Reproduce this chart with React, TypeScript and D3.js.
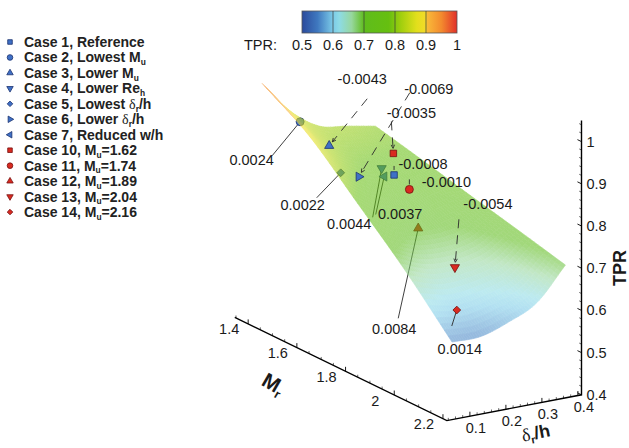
import React from "react";
import * as d3 from "d3";

const WIDTH = 629;
const HEIGHT = 448;
const SANS = "'Liberation Sans', Arial, Helvetica, sans-serif";
const SERIF = "'Liberation Serif', 'Times New Roman', serif";
const INK = "#1a1a1a";

// ---- colour map (TPR) ----
const CMAP_VALUES = [0.5, 0.55, 0.6, 0.62, 0.66, 0.7, 0.78, 0.82, 0.87, 0.9, 0.905, 0.95, 1.0];
const CMAP_COLORS = [
  "#2b4a9c", "#3f78bf", "#7ccbe8", "#8ddbe6", "#97d79e", "#5fbc1c", "#66bf10",
  "#a2cf0e", "#e2df1c", "#f4da2a", "#f9b838", "#f38a2e", "#e1302a",
];
const COLORBAR_TICKS = [0.5, 0.6, 0.7, 0.8, 0.9, 1];

// ---- axes ----
const MR_TICKS = [1.4, 1.6, 1.8, 2, 2.2];
const DR_TICKS = [0.1, 0.2, 0.3, 0.4];
const TPR_TICKS = [0.4, 0.5, 0.6, 0.7, 0.8, 0.9, 1];
const MR_EXTENT = [1.345, 2.216];
const DR_EXTENT = [0.036, 0.41];
const TPR_EXTENT = [0.4, 1.05];

// ---- fitted response surface TPR(Mr, δr/h) ----
const MR_NODES = [1.37, 1.565, 1.76, 1.955, 2.15];
const DR_NODES = [0.095, 0.174, 0.253, 0.331, 0.41];
const TPR_GRID = [
  [0.952, 0.873, 0.825, 0.812, 0.799],
  [0.881, 0.815, 0.778, 0.769, 0.772],
  [0.779, 0.734, 0.715, 0.719, 0.744],
  [0.675, 0.651, 0.651, 0.667, 0.717],
  [0.558, 0.558, 0.58, 0.613, 0.689],
];

// ---- cases ----
const CASE_LABELS = [
  "Case 1, Reference",
  "Case 2, Lowest M_{u}",
  "Case 3, Lower M_{u}",
  "Case 4, Lower Re_{h}",
  "Case 5, Lowest δ_{r}/h",
  "Case 6, Lower δ_{r}/h",
  "Case 7, Reduced w/h",
  "Case 10, M_{u}=1.62",
  "Case 11, M_{u}=1.74",
  "Case 12, M_{u}=1.89",
  "Case 13, M_{u}=2.04",
  "Case 14, M_{u}=2.16",
];
const CASE_SHAPES = ["square", "circle", "up", "down", "diamond", "right", "left", "square", "circle", "up", "down", "diamond"];
const CASE_SERIES = ["ref", "ref", "ref", "ref", "ref", "ref", "ref", "mach", "mach", "mach", "mach", "mach"];
const CASE_MR = [1.6, 1.501, 1.514, 1.558, 1.65, 1.631, 1.598, 1.507, 1.654, 1.785, 1.946, 2.069];
const CASE_DR = [0.306, 0.112, 0.184, 0.3, 0.124, 0.187, 0.28, 0.367, 0.312, 0.248, 0.241, 0.163];
const CASE_TPR = [0.765, 0.895, 0.83, 0.77, 0.814, 0.789, 0.765, 0.78, 0.745, 0.7, 0.654, 0.6];
const CASE_RESIDUAL = [-0.0008, 0.0024, -0.0043, 0.0044, 0.0022, -0.0069, 0.0037, -0.0035, -0.001, 0.0084, -0.0054, 0.0014];

// annotation layout: leader start and label centre, relative to the marker (px)
const LEADER_OFFSETS = [
  [0, -9], [-28, 34], [38, -47], [-9, 49], [-24, 25], [51, -84],
  [-8.5, 38], [-2, -32], [0, -10], [-20, 90], [4, -48], [-5, 16],
];
const LABEL_OFFSETS = [
  [29, -6], [-48.5, 43], [33, -62], [-32.5, 61], [-38, 37], [70, -83],
  [16, 42], [18, -35], [37, -2], [-24, 106], [33, -58], [3, 44],
];

const SERIES_FILL: Record<string, string> = { ref: "#3f70c6", mach: "#d92a20" };
const SERIES_STROKE: Record<string, string> = { ref: "#1c3270", mach: "#761010" };

// ---- projection (Mr, δr/h, TPR) -> screen ----
const ORIGIN = [271.2, 319.5]; // (Mr 1.4, δr/h 0.1, TPR 0.4)
const MR_VEC = [194.8, 94.8];
const DR_VEC = [108, -20.7];
const TPR_VEC = [0, -253.2];
const mrScale = d3.scaleLinear().domain([1.4, 2.2]).range([0, 1]);
const drScale = d3.scaleLinear().domain([0.1, 0.4]).range([0, 1]);
const tprScale = d3.scaleLinear().domain([0.4, 1.0]).range([0, 1]);

function project(mr: number, dr: number, t: number): [number, number] {
  const a = mrScale(mr);
  const b = drScale(dr);
  const c = tprScale(t);
  return [
    ORIGIN[0] + a * MR_VEC[0] + b * DR_VEC[0] + c * TPR_VEC[0],
    ORIGIN[1] + a * MR_VEC[1] + b * DR_VEC[1] + c * TPR_VEC[1],
  ];
}

const colorScale = d3
  .scaleLinear<string>()
  .domain(CMAP_VALUES)
  .range(CMAP_COLORS)
  .interpolate(d3.interpolateRgb)
  .clamp(true);

// smooth evaluation of the grid (Catmull-Rom in each direction)
function catmull(v: number[], s: number) {
  const n = v.length;
  const i = Math.min(Math.max(Math.floor(s), 0), n - 2);
  const t = s - i;
  const p1 = v[i];
  const p2 = v[i + 1];
  const p0 = i > 0 ? v[i - 1] : 2 * p1 - p2;
  const p3 = i + 2 < n ? v[i + 2] : 2 * p2 - p1;
  return 0.5 * (2 * p1 + (-p0 + p2) * t + (2 * p0 - 5 * p1 + 4 * p2 - p3) * t * t + (-p0 + 3 * p1 - 3 * p2 + p3) * t * t * t);
}
function gridValue(si: number, sj: number) {
  const col = TPR_GRID.map((row) => catmull(row, sj));
  return catmull(col, si);
}
const mrAt = d3.scaleLinear().domain(d3.range(MR_NODES.length)).range(MR_NODES);
const drAt = d3.scaleLinear().domain(d3.range(DR_NODES.length)).range(DR_NODES);

function buildSurface(n: number) {
  const rows = MR_NODES.length - 1;
  const cols = DR_NODES.length - 1;
  const pts: { p: [number, number]; t: number }[][] = [];
  for (let i = 0; i <= n; i++) {
    const si = (i / n) * rows;
    const line: { p: [number, number]; t: number }[] = [];
    for (let j = 0; j <= n; j++) {
      const sj = (j / n) * cols;
      const t = gridValue(si, sj);
      line.push({ p: project(mrAt(si), drAt(sj), t), t });
    }
    pts.push(line);
  }
  const quads: { d: string; fill: string }[] = [];
  const lineGen = d3.line();
  for (let i = 0; i < n; i++) {
    for (let j = 0; j < n; j++) {
      const a = pts[i][j], b = pts[i + 1][j], c = pts[i + 1][j + 1], e = pts[i][j + 1];
      const t = (a.t + b.t + c.t + e.t) / 4;
      quads.push({ d: lineGen([a.p, b.p, c.p, e.p])! + "Z", fill: colorScale(t) });
    }
  }
  return quads;
}

function markerPath(shape: string, s: number) {
  const sym = (type: d3.SymbolType, area: number) => d3.symbol().type(type).size(area)()!;
  switch (shape) {
    case "square": return { d: sym(d3.symbolSquare, 42 * s), rot: 0 };
    case "circle": return { d: sym(d3.symbolCircle, 50 * s), rot: 0 };
    case "up": return { d: sym(d3.symbolTriangle, 36 * s), rot: 0 };
    case "down": return { d: sym(d3.symbolTriangle, 36 * s), rot: 180 };
    case "right": return { d: sym(d3.symbolTriangle, 36 * s), rot: 90 };
    case "left": return { d: sym(d3.symbolTriangle, 36 * s), rot: -90 };
    default: return { d: sym(d3.symbolSquare, 30 * s), rot: 45 };
  }
}

function Marker({ shape, series, x, y, s }: { shape: string; series: string; x: number; y: number; s: number }) {
  const m = markerPath(shape, s);
  return (
    <path
      d={m.d}
      transform={`translate(${x},${y}) rotate(${m.rot})`}
      fill={SERIES_FILL[series]}
      stroke={SERIES_STROKE[series]}
      strokeWidth={0.8}
    />
  );
}

function RichText({ text, size, weight = "normal" }: { text: string; size: number; weight?: string }) {
  const parts = text.split(/(_\{[^}]*\}|δ)/).filter((s) => s.length);
  let shift = 0;
  return (
    <>
      {parts.map((p, k) => {
        if (p.startsWith("_{")) {
          shift = size * 0.2;
          return (
            <tspan key={k} dy={shift} fontSize={size * 0.6}>
              {p.slice(2, -1)}
            </tspan>
          );
        }
        const dy = shift ? -shift : undefined;
        shift = 0;
        if (p === "δ") {
          return (
            <tspan key={k} dy={dy} fontFamily={SERIF} fontWeight="normal" fontSize={size}>
              δ
            </tspan>
          );
        }
        return (
          <tspan key={k} dy={dy} fontWeight={weight}>
            {p}
          </tspan>
        );
      })}
    </>
  );
}

function Leader({ from, to, dashed, color }: { from: [number, number]; to: [number, number]; dashed: boolean; color: string }) {
  const dx = to[0] - from[0];
  const dy = to[1] - from[1];
  const len = Math.hypot(dx, dy);
  const ux = dx / len, uy = dy / len;
  const tip: [number, number] = [to[0] - ux * 5, to[1] - uy * 5];
  const wing = (ang: number): [number, number] => {
    const c = Math.cos(ang), s = Math.sin(ang);
    const bx = -(ux * c - uy * s), by = -(ux * s + uy * c);
    return [tip[0] + bx * 4, tip[1] + by * 4];
  };
  const line = d3.line();
  return (
    <g stroke={color} fill="none" strokeWidth={0.9}>
      <path d={line([from, dashed ? tip : to])!} strokeDasharray={dashed ? "9,7" : undefined} />
      {dashed && len > 15 && <path d={line([wing(0.45), tip, wing(-0.45)])!} />}
    </g>
  );
}

export default function App() {
  const quads = React.useMemo(() => buildSurface(48), []);
  const fmt = (v: number) => v.toFixed(4);

  const cases = CASE_LABELS.map((label, i) => {
    const [x, y] = project(CASE_MR[i], CASE_DR[i], CASE_TPR[i]);
    return {
      i,
      x,
      y,
      shape: CASE_SHAPES[i],
      series: CASE_SERIES[i],
      resid: CASE_RESIDUAL[i],
      hidden: CASE_RESIDUAL[i] > 0.002,
    };
  });

  const renderCase = (c: (typeof cases)[number]) => {
    const lo = LEADER_OFFSETS[c.i];
    return (
      <g key={c.i}>
        <Leader from={[c.x + lo[0], c.y + lo[1]]} to={[c.x, c.y]} dashed={c.resid < 0} color="#2a2a2a" />
        <Marker shape={c.shape} series={c.series} x={c.x} y={c.y} s={1} />
      </g>
    );
  };

  // axis geometry
  const mrAxisA = project(MR_EXTENT[0], DR_EXTENT[0], TPR_EXTENT[0]);
  const mrAxisB = project(MR_EXTENT[1], DR_EXTENT[0], TPR_EXTENT[0]);
  const drAxisB = project(MR_EXTENT[1], DR_EXTENT[1], TPR_EXTENT[0]);
  const tprAxisTop = project(MR_EXTENT[1], DR_EXTENT[1], TPR_EXTENT[1]);
  const mrMinor = d3.range(1.35, 2.2001, 0.05).filter((v) => !MR_TICKS.some((t) => Math.abs(t - v) < 1e-6));
  const drMinor = d3.range(0.04, 0.4001, 0.02).filter((v) => !DR_TICKS.some((t) => Math.abs(t - v) < 1e-6));
  const tprMinor = d3.range(0.42, 1.0401, 0.02).filter((v) => !TPR_TICKS.some((t) => Math.abs(t - v) < 1e-6));
  const mrDirLen = Math.hypot(MR_VEC[0], MR_VEC[1]);
  const tprTickDir = [-MR_VEC[0] / mrDirLen, -MR_VEC[1] / mrDirLen];

  // colour bar
  const cbX = d3.scaleLinear().domain([0.5, 1]).range([302, 457]);
  const cbY = 11;
  const cbH = 22;

  return (
    <svg
      width={WIDTH}
      height={HEIGHT}
      viewBox={`0 0 ${WIDTH} ${HEIGHT}`}
      style={{ position: "absolute", left: 0, top: 0, background: "#fff" }}
      fontFamily={SANS}
    >
      <defs>
        <linearGradient id="tpr-bar" x1="0" x2="1" y1="0" y2="0">
          {CMAP_VALUES.map((v, k) => (
            <stop key={k} offset={(v - 0.5) / 0.5} stopColor={CMAP_COLORS[k]} />
          ))}
        </linearGradient>
      </defs>

      {/* 3D axes */}
      <g stroke="#000" strokeWidth={1.4} fill="none">
        <path d={d3.line()([mrAxisA, mrAxisB, drAxisB, tprAxisTop])!} />
      </g>
      <g stroke="#000" strokeWidth={0.9}>
        {MR_TICKS.map((v) => {
          const p = project(v, DR_EXTENT[0], 0.4);
          return <line key={"mr" + v} x1={p[0]} y1={p[1]} x2={p[0]} y2={p[1] - 4.5} />;
        })}
        {mrMinor.map((v) => {
          const p = project(v, DR_EXTENT[0], 0.4);
          return <line key={"mrm" + v} x1={p[0]} y1={p[1]} x2={p[0]} y2={p[1] - 2.5} strokeWidth={0.6} />;
        })}
        {DR_TICKS.map((v) => {
          const p = project(MR_EXTENT[1], v, 0.4);
          return <line key={"dr" + v} x1={p[0]} y1={p[1]} x2={p[0]} y2={p[1] - 4.5} />;
        })}
        {drMinor.map((v) => {
          const p = project(MR_EXTENT[1], v, 0.4);
          return <line key={"drm" + v} x1={p[0]} y1={p[1]} x2={p[0]} y2={p[1] - 2.5} strokeWidth={0.6} />;
        })}
        {TPR_TICKS.map((v) => {
          const p = project(MR_EXTENT[1], DR_EXTENT[1], v);
          return <line key={"t" + v} x1={p[0]} y1={p[1]} x2={p[0] + tprTickDir[0] * 4.5} y2={p[1] + tprTickDir[1] * 4.5} />;
        })}
        {tprMinor.map((v) => {
          const p = project(MR_EXTENT[1], DR_EXTENT[1], v);
          return <line key={"tm" + v} x1={p[0]} y1={p[1]} x2={p[0] + tprTickDir[0] * 2.5} y2={p[1] + tprTickDir[1] * 2.5} strokeWidth={0.6} />;
        })}
      </g>
      <g fontSize={14.5} fill={INK}>
        {MR_TICKS.map((v) => {
          const p = project(v, DR_EXTENT[0], 0.4);
          return (
            <text key={v} x={p[0] - 19} y={p[1] + 10.5} textAnchor="middle">
              {String(v)}
            </text>
          );
        })}
        {DR_TICKS.map((v) => {
          const p = project(MR_EXTENT[1], v, 0.4);
          return (
            <text key={v} x={p[0] + 6} y={p[1] + 16.5} textAnchor="middle">
              {String(v)}
            </text>
          );
        })}
        {TPR_TICKS.map((v) => {
          const p = project(MR_EXTENT[1], DR_EXTENT[1], v);
          return (
            <text key={v} x={p[0] + 5} y={p[1] + 5} textAnchor="start">
              {String(v)}
            </text>
          );
        })}
      </g>
      <text transform="translate(270,390) rotate(30)" textAnchor="middle" fontSize={21} fill={INK} fontWeight="bold">
        <RichText text="M_{r}" size={21} weight="bold" />
      </text>
      <text transform="translate(537,439) rotate(-11)" textAnchor="middle" fontSize={18} fill={INK} fontWeight="bold">
        <RichText text="δ_{r}/h" size={18} weight="bold" />
      </text>
      <text transform="translate(626,268) rotate(-90)" textAnchor="middle" fontSize={18} fill={INK} fontWeight="bold">
        TPR
      </text>

      {/* cases lying under the surface */}
      {cases.filter((c) => c.hidden).map(renderCase)}

      {/* response surface */}
      <g opacity={0.58}>
        {quads.map((q, k) => (
          <path key={k} d={q.d} fill={q.fill} stroke={q.fill} strokeWidth={0.6} />
        ))}
      </g>

      {/* cases above the surface */}
      {cases.filter((c) => !c.hidden).map(renderCase)}

      {/* residual labels */}
      <g fontSize={14.5} fill={INK} textAnchor="middle">
        {cases.map((c) => (
          <text key={c.i} x={c.x + LABEL_OFFSETS[c.i][0]} y={c.y + LABEL_OFFSETS[c.i][1]}>
            {fmt(c.resid)}
          </text>
        ))}
      </g>

      {/* colour bar */}
      <rect x={cbX(0.5)} y={cbY} width={cbX(1) - cbX(0.5)} height={cbH} fill="url(#tpr-bar)" stroke="#555" strokeWidth={0.8} />
      {COLORBAR_TICKS.slice(1, -1).map((v) => (
        <line key={v} x1={cbX(v)} x2={cbX(v)} y1={cbY} y2={cbY + cbH} stroke="#3a3a3a" strokeWidth={0.7} />
      ))}
      <g fontSize={14.5} fill={INK}>
        <text x={244} y={50}>TPR:</text>
        {COLORBAR_TICKS.map((v) => (
          <text key={v} x={cbX(v)} y={50} textAnchor="middle">
            {String(v)}
          </text>
        ))}
      </g>

      {/* legend */}
      <g>
        {CASE_LABELS.map((label, i) => {
          const y = 42 + i * 15.46;
          return (
            <g key={i}>
              <Marker shape={CASE_SHAPES[i]} series={CASE_SERIES[i]} x={10} y={y} s={0.5} />
              <text x={24} y={y + 5} fontSize={14} fontWeight="bold" fill="#222">
                <RichText text={label} size={14} weight="bold" />
              </text>
            </g>
          );
        })}
      </g>
    </svg>
  );
}
